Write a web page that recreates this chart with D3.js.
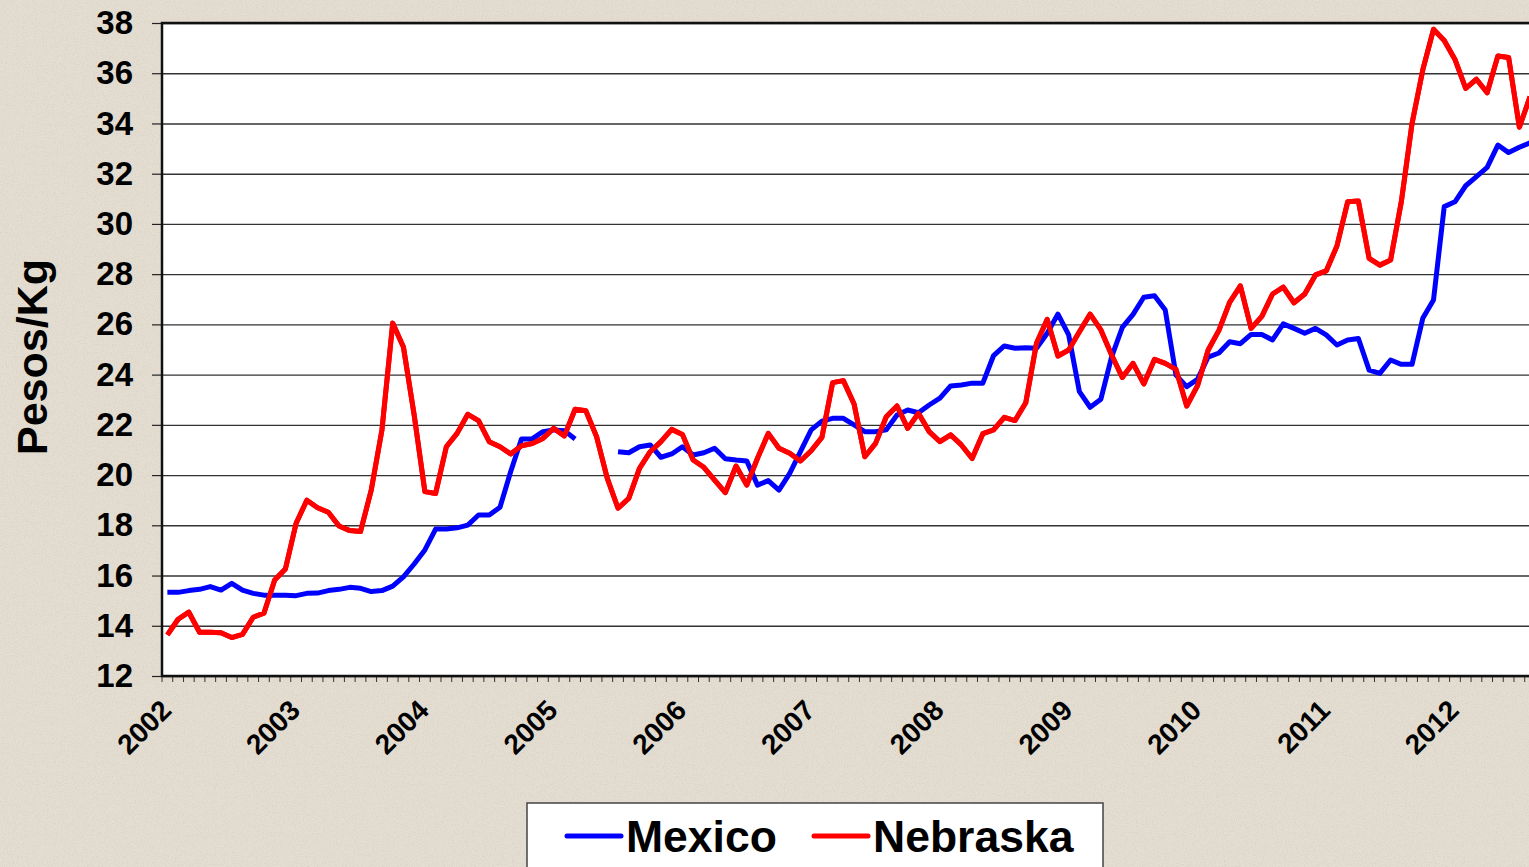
<!DOCTYPE html>
<html>
<head>
<meta charset="utf-8">
<script src="https://cdn.jsdelivr.net/npm/d3@7"></script>
<style>
  html, body { margin: 0; padding: 0; background: #e4ddd1; overflow: hidden; }
  svg { display: block; }
  .tick text { font-family: "Liberation Sans", Arial, sans-serif; font-weight: bold; fill: #000; }
</style>
</head>
<body>
<svg id="chart" width="1529" height="867"></svg>
<script>
// ---- data (monthly, Jan 2002 .. Aug 2012), pesos per kg ----
const years = ['2002', '2003', '2004', '2005', '2006', '2007', '2008', '2009', '2010', '2011', '2012'];
const yTicks = [12, 14, 16, 18, 20, 22, 24, 26, 28, 30, 32, 34, 36, 38];
const seriesNames = ['Mexico', 'Nebraska'];

const mexico = [
  15.33, 15.33, 15.40, 15.45, 15.56, 15.42, 15.69, 15.42, 15.29, 15.22, 15.22, 15.22,
  15.20, 15.29, 15.30, 15.40, 15.45, 15.53, 15.49, 15.36, 15.40, 15.58, 15.95, 16.46,
  17.02, 17.85, 17.85, 17.90, 18.01, 18.41, 18.41, 18.72, 20.14, 21.44, 21.44, 21.73,
  21.80, 21.77, 21.44, null, null, null, 20.93, 20.89, 21.13, 21.20, 20.71, 20.84,
  21.13, 20.80, 20.89, 21.07, 20.65, 20.60, 20.56, 19.60, 19.78, 19.40, 20.07, 20.93,
  21.80, 22.15, 22.26, 22.26, 22.00, 21.73, 21.73, 21.80, 22.39, 22.59, 22.48, 22.79,
  23.06, 23.55, 23.59, 23.66, 23.66, 24.76, 25.14, 25.05, 25.07, 25.05, 25.65, 26.41,
  25.58, 23.32, 22.70, 23.02, 24.71, 25.88, 26.40, 27.08, 27.14, 26.57, 23.98, 23.52,
  23.81, 24.70, 24.86, 25.31, 25.23, 25.60, 25.60, 25.38, 26.02, 25.84, 25.65, 25.84,
  25.58, 25.18, 25.38, 25.44, 24.18, 24.05, 24.58, 24.41, 24.41, 26.24, 26.97, 30.69,
  30.88, 31.52, 31.88, 32.25, 33.14, 32.84, 33.05, 33.23
];

const nebraska = [
  13.64, 14.26, 14.54, 13.74, 13.74, 13.72, 13.53, 13.66, 14.34, 14.50, 15.82, 16.26,
  18.08, 19.00, 18.70, 18.52, 17.97, 17.79, 17.75, 19.40, 21.80, 26.05, 25.10, 22.40,
  19.34, 19.27, 21.13, 21.66, 22.42, 22.17, 21.33, 21.13, 20.84, 21.17, 21.26, 21.46,
  21.86, 21.56, 22.62, 22.56, 21.53, 19.87, 18.68, 19.07, 20.27, 20.93, 21.33, 21.82,
  21.62, 20.60, 20.31, 19.80, 19.30, 20.36, 19.60, 20.67, 21.66, 21.07, 20.87, 20.56,
  20.97, 21.50, 23.68, 23.76, 22.83, 20.73, 21.26, 22.32, 22.75, 21.86, 22.46, 21.73,
  21.33, 21.60, 21.20, 20.66, 21.65, 21.80, 22.30, 22.17, 22.88, 25.25, 26.20, 24.74,
  24.98, 25.71, 26.41, 25.78, 24.78, 23.89, 24.45, 23.63, 24.61, 24.45, 24.21, 22.75,
  23.55, 24.98, 25.76, 26.88, 27.53, 25.84, 26.32, 27.21, 27.48, 26.86, 27.21, 27.97,
  28.13, 29.12, 30.88, 30.91, 28.63, 28.36, 28.56, 30.88, 34.00, 36.13, 37.75, 37.30,
  36.55, 35.40, 35.76, 35.22, 36.69, 36.63, 33.85, 35.07
];

// ---- layout ----
const margin = {left: 162, top: 23};
const monthW = 10.73;
const months = years.flatMap(yr => d3.range(12).map(m => yr + '-' + (m + 1)))
  .slice(0, mexico.length);
const plotW = months.length * monthW;
const plotH = 653;

const svg = d3.select('#chart');

// parchment-ish background
const defs = svg.append('defs');
const noise = defs.append('filter').attr('id', 'paper')
  .attr('x', 0).attr('y', 0).attr('width', '100%').attr('height', '100%');
noise.append('feTurbulence')
  .attr('type', 'fractalNoise').attr('baseFrequency', 0.9).attr('numOctaves', 2).attr('seed', 7);
noise.append('feColorMatrix')
  .attr('type', 'matrix')
  .attr('values', '0 0 0 0 0.55  0 0 0 0 0.50  0 0 0 0 0.42  0 0 0 -1.8 1.0');
svg.append('rect').attr('width', 1529).attr('height', 867).attr('fill', '#e4ddd1');
svg.append('rect').attr('width', 1529).attr('height', 867)
  .attr('filter', 'url(#paper)').attr('opacity', 0.45);

const x = d3.scaleBand()
  .domain(months)
  .range([margin.left, margin.left + plotW])
  .padding(0);

const y = d3.scaleLinear()
  .domain([12, 38])
  .range([margin.top + plotH, margin.top]);

// plot area
svg.append('rect')
  .attr('x', margin.left).attr('y', margin.top)
  .attr('width', plotW + 20).attr('height', plotH)
  .attr('fill', '#fff');

// gridlines
svg.append('g')
  .attr('transform', 'translate(' + margin.left + ',0)')
  .call(d3.axisLeft(y).tickValues(yTicks).tickSize(-(plotW + 20)).tickFormat(''))
  .call(g => g.select('.domain').remove())
  .call(g => g.selectAll('line').attr('stroke', '#333').attr('stroke-width', 1.4));

// y axis
svg.append('g')
  .attr('class', 'axis')
  .attr('transform', 'translate(' + margin.left + ',0)')
  .call(d3.axisLeft(y).tickValues(yTicks).tickSize(10).tickPadding(19))
  .call(g => g.select('.domain').remove())
  .call(g => g.selectAll('line').attr('stroke', '#222').attr('stroke-width', 1.2))
  .call(g => g.selectAll('text').attr('font-size', 33));

// month ticks at category boundaries
const bottom = margin.top + plotH;
svg.append('g')
  .selectAll('line')
  .data(months)
  .join('line')
  .attr('x1', d => x(d)).attr('x2', d => x(d))
  .attr('y1', bottom).attr('y2', bottom + 6)
  .attr('stroke', '#333').attr('stroke-width', 1);

// year labels
svg.append('g')
  .selectAll('text')
  .data(years)
  .join('text')
  .attr('transform', d => 'translate(' + (x(d + '-1') + 11) + ',' + (bottom + 36) + ') rotate(-45)')
  .attr('text-anchor', 'end')
  .attr('font-family', '"Liberation Sans", Arial, sans-serif')
  .attr('font-weight', 'bold')
  .attr('font-size', 28)
  .text(d => d);

// frame
svg.append('path')
  .attr('d', 'M' + (margin.left + plotW + 20) + ',' + margin.top + 'H' + margin.left + 'V' + bottom + 'H' + (margin.left + plotW + 20))
  .attr('fill', 'none').attr('stroke', '#111').attr('stroke-width', 2.5);

// series lines
const line = d3.line()
  .defined(d => d != null)
  .x((d, i) => x(months[i]) + x.bandwidth() / 2)
  .y(d => y(d));

svg.append('path')
  .datum(nebraska)
  .attr('fill', 'none').attr('stroke', '#ff0000').attr('stroke-width', 5)
  .attr('stroke-linejoin', 'round')
  .attr('d', line);

svg.append('path')
  .datum(mexico)
  .attr('fill', 'none').attr('stroke', '#0000ff').attr('stroke-width', 5)
  .attr('stroke-linejoin', 'round')
  .attr('d', line);

// Nebraska is drawn on top in the reference where they cross
svg.append('path')
  .datum(nebraska)
  .attr('fill', 'none').attr('stroke', '#ff0000').attr('stroke-width', 5)
  .attr('stroke-linejoin', 'round')
  .attr('d', line);

// y title
svg.append('text')
  .attr('transform', 'translate(47,357) rotate(-90)')
  .attr('text-anchor', 'middle')
  .attr('font-family', '"Liberation Sans", Arial, sans-serif')
  .attr('font-weight', 'bold')
  .attr('font-size', 43)
  .text('Pesos/Kg');

// legend
const legend = svg.append('g').attr('transform', 'translate(527,803)');
legend.append('rect')
  .attr('width', 576).attr('height', 90)
  .attr('fill', '#fff').attr('stroke', '#444').attr('stroke-width', 1.5);
const colors = ['#0000ff', '#ff0000'];
const legendX = [40, 287];
const item = legend.selectAll('g.item')
  .data(seriesNames)
  .join('g')
  .attr('class', 'item')
  .attr('transform', (d, i) => 'translate(' + legendX[i] + ',33)');
item.append('line')
  .attr('x1', 0).attr('x2', 54)
  .attr('stroke', (d, i) => colors[i]).attr('stroke-width', 5).attr('stroke-linecap', 'round');
item.append('text')
  .attr('x', 59).attr('y', 16)
  .attr('font-family', '"Liberation Sans", Arial, sans-serif')
  .attr('font-weight', 'bold')
  .attr('font-size', 44.5)
  .text(d => d);
</script>
</body>
</html>
